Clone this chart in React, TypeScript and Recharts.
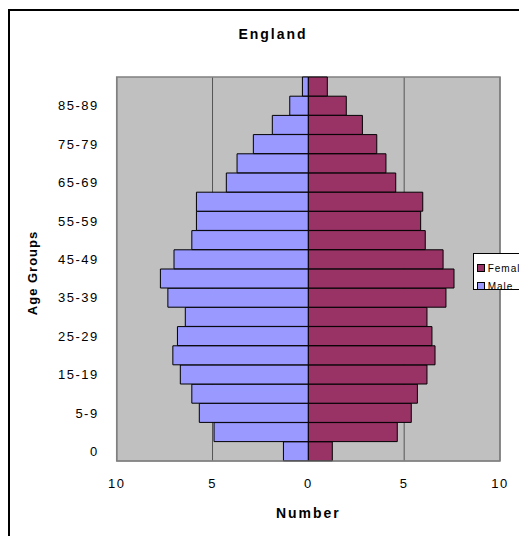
import React from "react";
import {
  BarChart,
  Bar,
  XAxis,
  YAxis,
  CartesianGrid,
  ReferenceArea,
  Legend,
} from "recharts";

const ageGroups = [
  "0", "1-4", "5-9", "10-14", "15-19", "20-24", "25-29", "30-34", "35-39", "40-44",
  "45-49", "50-54", "55-59", "60-64", "65-69", "70-74", "75-79", "80-84", "85-89", "90+",
];

// male values are drawn to the left of zero
const male = [
  1.3, 4.92, 5.69, 6.08, 6.68, 7.07, 6.83, 6.42, 7.33, 7.72,
  7.01, 6.08, 5.84, 5.84, 4.28, 3.72, 2.87, 1.88, 0.97, 0.31,
];

const female = [
  1.25, 4.64, 5.37, 5.69, 6.19, 6.61, 6.45, 6.19, 7.18, 7.6,
  7.03, 6.1, 5.86, 5.97, 4.56, 4.05, 3.57, 2.82, 1.98, 0.99,
];

const xTicks = [-10, -5, 0, 5, 10];

const data = ageGroups.map((age, i) => ({
  age,
  Male: -male[i],
  Female: female[i],
}));

const FONT = "'Liberation Sans', Arial, sans-serif";

function LegendBox() {
  const items = [
    { name: "Female", color: "#993366" },
    { name: "Male", color: "#9999FF" },
  ];
  return (
    <div
      style={{
        background: "#fff",
        border: "1px solid #000",
        width: 70,
        height: 37,
        boxSizing: "border-box",
        paddingTop: 5,
        paddingLeft: 3,
        fontFamily: FONT,
        fontSize: 10,
        letterSpacing: 1,
      }}
    >
      {items.map((it) => (
        <div key={it.name} style={{ display: "flex", alignItems: "center", height: 18 }}>
          <span
            style={{
              width: 8,
              height: 8,
              boxSizing: "border-box",
              background: it.color,
              border: "1px solid #000",
              marginRight: 3,
            }}
          />
          <span>{it.name}</span>
        </div>
      ))}
    </div>
  );
}

export default function App() {
  return (
    <div style={{ paddingTop: 1 }}>
      <style>{"html, body { overflow: hidden; }"}</style>
      <div
        style={{
          position: "relative",
          width: 540,
          height: 540,
          borderLeft: "2px solid #000",
          borderTop: "2px solid #000",
          boxSizing: "border-box",
        }}
      >
        <div
          style={{
            position: "absolute",
            left: 203,
            top: 15,
            width: 120,
            textAlign: "center",
            fontFamily: FONT,
            fontWeight: "bold",
            fontSize: 14,
            letterSpacing: 2,
            zIndex: 2,
          }}
        >
          England
        </div>
        <BarChart
          width={530}
          height={520}
          data={data}
          layout="vertical"
          stackOffset="sign"
          barCategoryGap={0}
          margin={{ top: 66, right: 40, left: 0, bottom: 0 }}
        >
          <CartesianGrid horizontal={false} fill="#C0C0C0" stroke="#555" strokeWidth={1} />
          <XAxis
            type="number"
            domain={[-10, 10]}
            ticks={xTicks}
            tickFormatter={(v: number) => String(Math.abs(v))}
            height={70}
            tickSize={0}
            tickMargin={18}
            axisLine={{ stroke: "#808080" }}
            tick={{ fill: "#000", fontSize: 13, fontFamily: FONT, letterSpacing: 1.5 }}
            label={{
              content: (props: any) => {
                const vb = props.viewBox;
                return (
                  <text
                    x={vb.x + vb.width / 2}
                    y={vb.y + 57}
                    textAnchor="middle"
                    fontFamily={FONT}
                    fontWeight="bold"
                    fontSize={14}
                    letterSpacing={2}
                    fill="#000"
                  >
                    Number
                  </text>
                );
              },
            }}
          />
          <YAxis
            type="category"
            dataKey="age"
            reversed
            interval={1}
            width={106.7}
            tickSize={0}
            tickMargin={18}
            tickLine={false}
            axisLine={{ stroke: "#808080" }}
            tick={{ fill: "#000", fontSize: 13, fontFamily: FONT, letterSpacing: 1.5 }}
            label={{
              content: (props: any) => {
                const vb = props.viewBox;
                const cx = 22.5;
                const cy = vb.y + vb.height / 2 + 4;
                return (
                  <text
                    x={cx}
                    y={cy}
                    transform={`rotate(-90 ${cx} ${cy})`}
                    textAnchor="middle"
                    dominantBaseline="central"
                    fontFamily={FONT}
                    fontWeight="bold"
                    fontSize={13}
                    letterSpacing={1}
                    fill="#000"
                  >
                    Age Groups
                  </text>
                );
              },
            }}
          />
          <ReferenceArea x1={-10} x2={10} fill="none" stroke="#808080" strokeWidth={1.5} />
          <Bar
            dataKey="Male"
            stackId="pop"
            fill="#9999FF"
            stroke="#000"
            strokeWidth={1}
            isAnimationActive={false}
          />
          <Bar
            dataKey="Female"
            stackId="pop"
            fill="#993366"
            stroke="#000"
            strokeWidth={1}
            isAnimationActive={false}
          />
          <Legend
            layout="horizontal"
            verticalAlign="middle"
            align="center"
            content={() => <LegendBox />}
            wrapperStyle={{ left: 462.7, top: 242, width: 70, height: 37 }}
          />
        </BarChart>
      </div>
    </div>
  );
}
